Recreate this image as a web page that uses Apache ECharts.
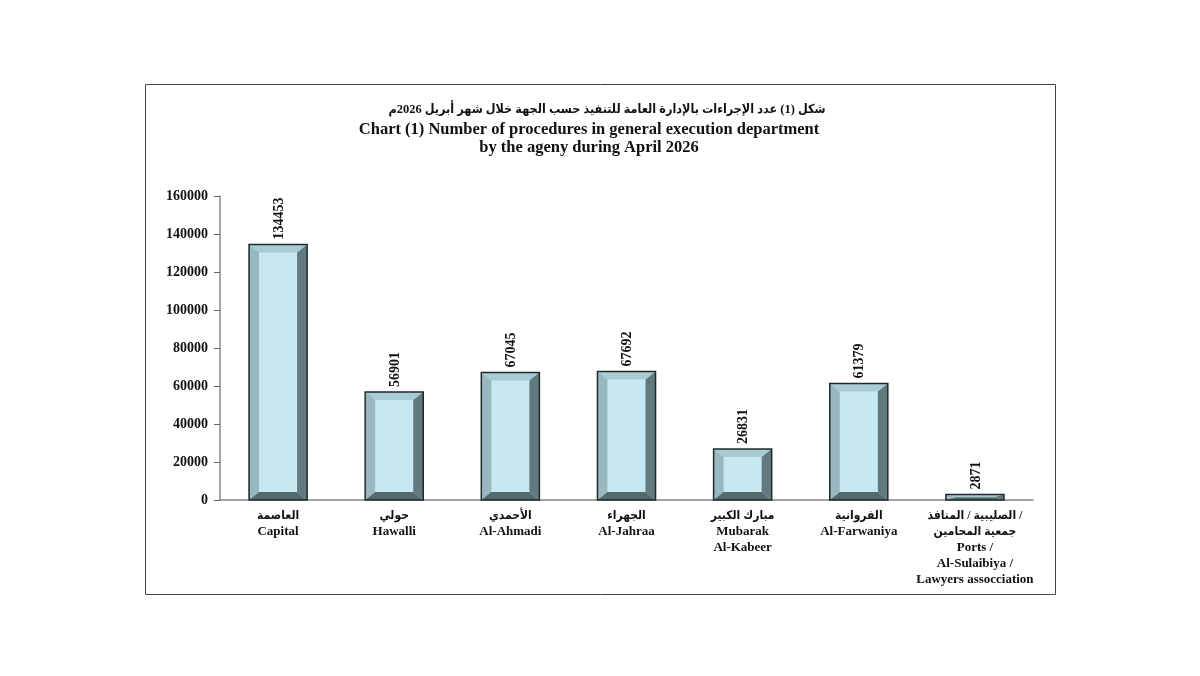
<!DOCTYPE html>
<html>
<head>
<meta charset="utf-8">
<script src="https://cdn.jsdelivr.net/npm/echarts@6/dist/echarts.min.js"></script>
<style>
  html, body { margin: 0; padding: 0; background: #fff; }
  #main { width: 1200px; height: 676px; }
</style>
</head>
<body>
<div id="main"></div>
<script>
const namesAr = ["العاصمة", "حولي", "الأحمدي", "الجهراء", "مبارك الكبير", "الفروانية", "الصليبية / المنافذ /\nجمعية المحامين"];
const namesEn = ["Capital", "Hawalli", "Al-Ahmadi", "Al-Jahraa", "Mubarak\nAl-Kabeer", "Al-Farwaniya", "Ports /\nAl-Sulaibiya /\nLawyers assocciation"];
const values = [134453, 56901, 67045, 67692, 26831, 61379, 2871];
const yTicks = [0, 20000, 40000, 60000, 80000, 100000, 120000, 140000, 160000];

(function () {
  let dom = document.getElementById("main");
  let myChart = echarts.init(dom);
  const serif = "'Liberation Serif', 'DejaVu Serif', serif";
  const arabic = "'Liberation Serif', 'DejaVu Sans Condensed', 'DejaVu Sans', sans-serif";

  // 把每个类别拼成两段的富文本标签
  const catLabels = namesAr.map((ar, i) => {
    const arPart = ar.split("\n").map(s => "{ar|" + s + "}").join("\n");
    const enPart = namesEn[i].split("\n").map(s => "{en|" + s + "}").join("\n");
    return arPart + "\n" + enPart;
  });

  // 立体效果的柱子
  function renderBar(params, api) {
    const idx = api.value(0);
    const top = api.coord([idx, api.value(1)]);
    const base = api.coord([idx, 0]);
    const bw = api.size([1, 0])[0] * 0.5;
    const l = top[0] - bw / 2, r = top[0] + bw / 2;
    const t = top[1], b = base[1];
    const h = b - t;
    const bx = Math.min(10, bw / 2);
    const by = Math.min(8, h / 2);
    return {
      type: "group",
      children: [
        { type: "rect", shape: { x: l, y: t, width: bw, height: h }, style: { fill: "#c6e8f2" } },
        { type: "polygon", shape: { points: [[l, t], [r, t], [r - bx, t + by], [l + bx, t + by]] }, style: { fill: "#a9cbd4" } },
        { type: "polygon", shape: { points: [[l, t], [l + bx, t + by], [l + bx, b - by], [l, b]] }, style: { fill: "#98b7bf" } },
        { type: "polygon", shape: { points: [[r, t], [r - bx, t + by], [r - bx, b - by], [r, b]] }, style: { fill: "#62797e" } },
        { type: "polygon", shape: { points: [[l, b], [r, b], [r - bx, b - by], [l + bx, b - by]] }, style: { fill: "#55696d" } },
        { type: "rect", shape: { x: l, y: t, width: bw, height: h }, style: { fill: "none", stroke: "#1e2b2b", lineWidth: 1.5 } },
        {
          type: "text",
          x: top[0] + 1,
          y: t - 5,
          rotation: Math.PI / 2,
          style: {
            text: String(api.value(1)),
            font: "bold 14px " + serif,
            fill: "#111",
            align: "left",
            verticalAlign: "middle"
          }
        }
      ]
    };
  }

  let options = {
    backgroundColor: "#fff",
    animation: false,
    title: [
      {
        text: "شكل (1) عدد الإجراءات بالإدارة العامة للتنفيذ حسب الجهة خلال شهر أبريل 2026م",
        left: 602, top: 98, textAlign: "center",
        textStyle: { fontFamily: arabic, fontWeight: "bold", fontSize: 12.5, color: "#111" }
      },
      {
        text: "Chart (1) Number of procedures in general execution department\nby the ageny during April 2026",
        left: 584, top: 116, textAlign: "center",
        textStyle: { fontFamily: serif, fontWeight: "bold", fontSize: 16.5, lineHeight: 18, color: "#111" }
      }
    ],
    graphic: [
      {
        type: "rect",
        shape: { x: 145.5, y: 84.5, width: 910, height: 510 },
        style: { fill: "none", stroke: "#444", lineWidth: 1 },
        silent: true
      }
    ],
    grid: { left: 220, right: 167, top: 196, bottom: 176 },
    xAxis: {
      type: "category",
      data: catLabels,
      axisLine: { lineStyle: { color: "#888", width: 1.5 } },
      axisTick: { length: 4, lineStyle: { color: "#666" } },
      axisLabel: {
        interval: 0,
        margin: 8,
        color: "#111",
        rich: {
          ar: { fontFamily: arabic, fontWeight: "bold", fontSize: 12, lineHeight: 16, color: "#111" },
          en: { fontFamily: serif, fontWeight: "bold", fontSize: 13, lineHeight: 16, color: "#111" }
        }
      }
    },
    yAxis: {
      type: "value",
      min: yTicks[0],
      max: yTicks[yTicks.length - 1],
      interval: yTicks[1] - yTicks[0],
      axisLine: { show: true, lineStyle: { color: "#888", width: 1.5 } },
      axisTick: { show: true, length: 6, lineStyle: { color: "#666" } },
      splitLine: { show: false },
      axisLabel: {
        margin: 12,
        color: "#111",
        fontFamily: serif,
        fontWeight: "bold",
        fontSize: 14,
        formatter: (v) => String(v)
      }
    },
    series: [
      {
        type: "custom",
        renderItem: renderBar,
        encode: { x: 0, y: 1 },
        data: values.map((v, i) => [i, v])
      }
    ]
  };
  myChart.setOption(options);
  window.addEventListener("resize", () => {
    myChart.resize();
  });
})();
</script>
</body>
</html>
